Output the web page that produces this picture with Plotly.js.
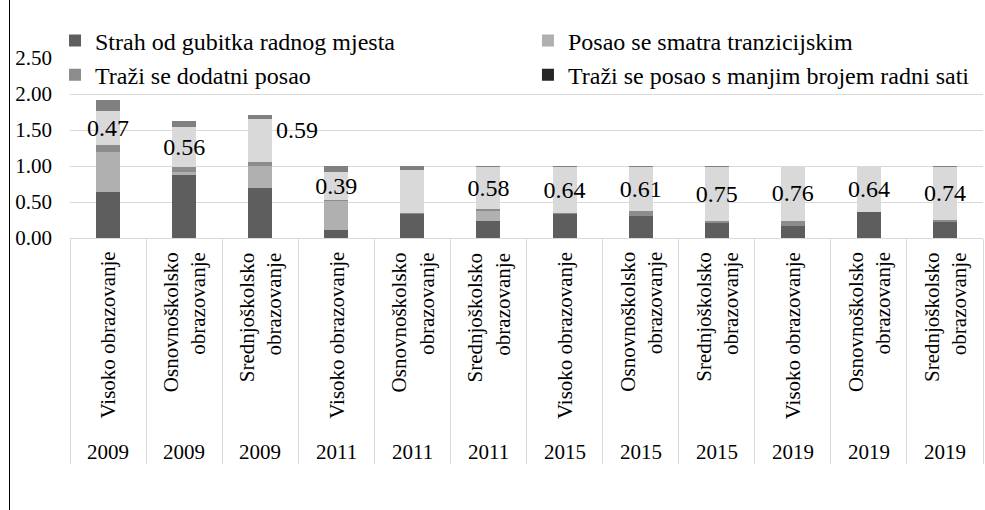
<!DOCTYPE html>
<html>
<head>
<meta charset="utf-8">
<script src="https://cdn.plot.ly/plotly-3.0.1.min.js"></script>
<style>
  html, body { margin: 0; padding: 0; background: #fff; }
  #wrap { position: relative; width: 985px; height: 510px; }
  #chart { width: 985px; height: 510px; }
  #frame { position: absolute; left: 9px; top: 0; width: 1px; height: 510px; background: #000; pointer-events: none; }
</style>
</head>
<body>
<div id="wrap"><div id="chart"></div><div id="frame"></div></div>
<script>
// ---- data ----
const eduLabels = [
  'Visoko obrazovanje', 'Osnovnoškolsko<br>obrazovanje', 'Srednjoškolsko<br>obrazovanje',
  'Visoko obrazovanje', 'Osnovnoškolsko<br>obrazovanje', 'Srednjoškolsko<br>obrazovanje',
  'Visoko obrazovanje', 'Osnovnoškolsko<br>obrazovanje', 'Srednjoškolsko<br>obrazovanje',
  'Visoko obrazovanje', 'Osnovnoškolsko<br>obrazovanje', 'Srednjoškolsko<br>obrazovanje'
];
const years = ['2009','2009','2009','2011','2011','2011','2015','2015','2015','2019','2019','2019'];

const strahGubitka      = [0.64, 0.87, 0.69, 0.11, 0.33, 0.23, 0.33, 0.31, 0.21, 0.16, 0.36, 0.22];
const tranzicijski      = [0.55, 0.04, 0.31, 0.41, 0.00, 0.15, 0.00, 0.00, 0.00, 0.00, 0.00, 0.00];
const dodatniPosao      = [0.10, 0.07, 0.06, 0.01, 0.02, 0.02, 0.02, 0.07, 0.03, 0.08, 0.00, 0.03];
const manjiBrojSati     = [0.00, 0.00, 0.00, 0.00, 0.00, 0.00, 0.00, 0.00, 0.00, 0.00, 0.00, 0.00];
const serija5           = [0.47, 0.56, 0.59, 0.39, 0.60, 0.58, 0.64, 0.61, 0.75, 0.76, 0.64, 0.74];
const serija6           = [0.16, 0.08, 0.06, 0.08, 0.05, 0.02, 0.01, 0.01, 0.01, 0.00, 0.00, 0.01];
// how each label of serija5 is shown: 'in' = centred in segment, 'right' = beside bar, 'none' = hidden
const labelMode = ['in','in','right','in','none','in','in','in','in','in','in','in'];

const seriesNames = [
  'Strah od gubitka radnog mjesta',
  'Posao se smatra tranzicijskim',
  'Traži se dodatni posao',
  'Traži se posao s manjim brojem radni sati',
  'Serija 5',
  'Serija 6'
];

// ---- build ----
const FONT = 'Liberation Serif';
const cats = eduLabels.map((e, i) => e.replace('<br>', ' ') + ' ' + years[i]);

const colors = ['#5e5e5e', '#b0b0b0', '#8c8c8c', '#262626', '#d9d9d9', '#808080'];
const vals = [strahGubitka, tranzicijski, dodatniPosao, manjiBrojSati, serija5, serija6];
const legendOf = ['legend', 'legend2', 'legend', 'legend2', 'legend', 'legend'];

const traces = vals.map((v, k) => ({
  type: 'bar',
  name: seriesNames[k],
  x: cats,
  y: v,
  marker: { color: colors[k], line: { width: 0 } },
  legend: legendOf[k],
  showlegend: k < 4,
  hoverinfo: 'skip'
}));

// labels on serija5
traces[4].text = serija5.map((v, i) => labelMode[i] === 'in' ? v.toFixed(2) : '');
traces[4].textposition = 'inside';
traces[4].insidetextanchor = 'middle';
traces[4].textangle = 0;
traces[4].constraintext = 'none';
traces[4].cliponaxis = false;
traces[4].textfont = { family: FONT, size: 24, color: '#000' };
traces[4].insidetextfont = { family: FONT, size: 24, color: '#000' };

const annotations = [];
cats.forEach((c, i) => {
  annotations.push({
    xref: 'x', yref: 'paper', x: c, y: -0.067,
    text: eduLabels[i], textangle: -90, align: 'right',
    xanchor: 'center', yanchor: 'top', showarrow: false,
    font: { family: FONT, size: 21, color: '#000' }
  });
  annotations.push({
    xref: 'x', yref: 'paper', x: c, y: -1.189,
    text: years[i], xanchor: 'center', yanchor: 'middle', showarrow: false,
    font: { family: FONT, size: 21, color: '#000' }
  });
  if (labelMode[i] === 'right') {
    const base = strahGubitka[i] + tranzicijski[i] + dodatniPosao[i] + manjiBrojSati[i];
    annotations.push({
      xref: 'x', yref: 'y', x: c, y: base + serija5[i] / 2,
      text: serija5[i].toFixed(2), xanchor: 'left', yanchor: 'middle',
      xshift: 14, yshift: 10, showarrow: false,
      font: { family: FONT, size: 24, color: '#000' }
    });
  }
});

const layout = {
  width: 985, height: 510,
  margin: { l: 70, r: 2, t: 58, b: 272, autoexpand: false },
  paper_bgcolor: 'rgba(0,0,0,0)', plot_bgcolor: 'rgba(0,0,0,0)',
  barmode: 'stack',
  bargap: 0.685,
  font: { family: FONT, size: 21, color: '#000' },
  xaxis: {
    type: 'category',
    showticklabels: false,
    ticks: 'outside', tickson: 'boundaries', ticklen: 225, tickwidth: 1, tickcolor: '#d9d9d9',
    showline: true, linecolor: '#d9d9d9', linewidth: 1,
    showgrid: false, zeroline: false, fixedrange: true
  },
  yaxis: {
    range: [0, 2.5], dtick: 0.5, tick0: 0, tickformat: '.2f',
    showgrid: true, gridcolor: '#d9d9d9', gridwidth: 1,
    zeroline: false, showline: false, ticks: '',
    ticklabelstandoff: 17,
    tickfont: { family: FONT, size: 21, color: '#000' },
    fixedrange: true
  },
  legend: {
    orientation: 'v', traceorder: 'normal',
    x: -0.0164, xanchor: 'left', y: 1.22, yanchor: 'top',
    bgcolor: 'rgba(0,0,0,0)', borderwidth: 0,
    font: { family: FONT, size: 24, color: '#000' }
  },
  legend2: {
    orientation: 'v', traceorder: 'normal',
    x: 0.5016, xanchor: 'left', y: 1.22, yanchor: 'top',
    bgcolor: 'rgba(0,0,0,0)', borderwidth: 0,
    font: { family: FONT, size: 24, color: '#000' }
  },
  annotations: annotations,
  showlegend: true
};

Plotly.newPlot('chart', traces, layout, { staticPlot: true, displayModeBar: false });
</script>
</body>
</html>
